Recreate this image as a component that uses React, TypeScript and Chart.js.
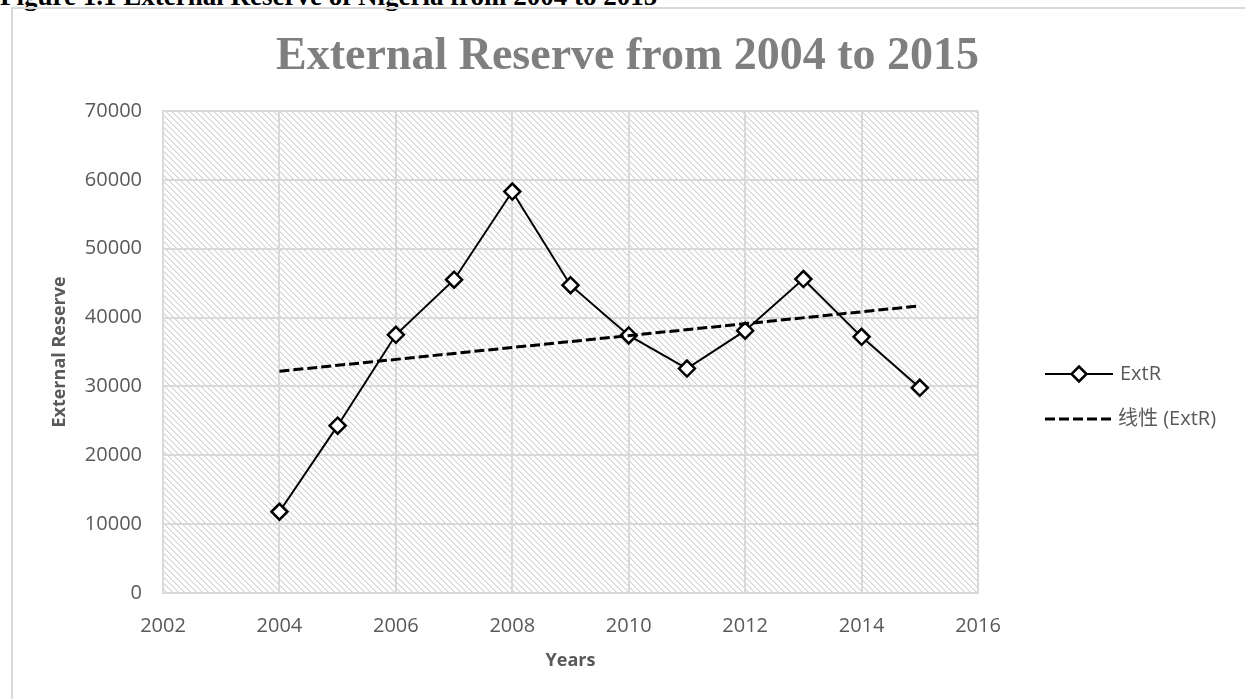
import React, { useEffect, useRef } from "react";
import { Chart, registerables } from "chart.js";

Chart.register(...registerables);

// ---- data ----
const years = [2004, 2005, 2006, 2007, 2008, 2009, 2010, 2011, 2012, 2013, 2014, 2015];
const extR = [11800, 24300, 37500, 45500, 58300, 44700, 37400, 32600, 38100, 45600, 37200, 29800];
const trendYears = [2004, 2015];
const trendValues = [32200, 41700];
const seriesLabel = "ExtR";
const trendLabel = "线性 (ExtR)";
const chartTitle = "External Reserve from 2004 to 2015";
const captionText = "Figure 1.1 External Reserve of Nigeria from 2004 to 2015";
const yAxisTitle = "External Reserve";
const xAxisTitle = "Years";
const xMin = 2002;
const xMax = 2016;
const xStep = 2;
const yMin = 0;
const yMax = 70000;
const yStep = 10000;

const TEXT = "#595959";
const GRID = "#d9d9d9";
const SANS = "'Open Sans', 'Noto Sans CJK SC', sans-serif";

const hatchPlugin = {
  id: "hatch",
  beforeDraw(chart: any) {
    const { ctx, chartArea: a } = chart;
    const n = 6;
    const pc = document.createElement("canvas");
    pc.width = n;
    pc.height = n;
    const p = pc.getContext("2d")!;
    const img = p.createImageData(n, n);
    for (let y = 0; y < n; y++) {
      for (let x = 0; x < n; x++) {
        const k = (((x - y) % n) + n) % n;
        const v = k === 0 ? 212 : k === 1 ? 232 : 255;
        const i = (y * n + x) * 4;
        img.data[i] = v;
        img.data[i + 1] = v;
        img.data[i + 2] = v;
        img.data[i + 3] = 255;
      }
    }
    p.putImageData(img, 0, 0);
    const pat = ctx.createPattern(pc, "repeat");
    ctx.save();
    ctx.fillStyle = pat;
    ctx.fillRect(a.left, a.top, a.right - a.left, a.bottom - a.top);
    ctx.restore();
  },
};

const legendPlugin = {
  id: "customLegend",
  afterDraw(chart: any) {
    const ctx = chart.ctx;
    const ds = chart.data.datasets;
    const x0 = 1045;
    const x1 = 1113;
    const tx = 1120;
    const rows = [374, 419];
    ctx.save();
    const main = ds[1];
    let y = rows[0];
    ctx.strokeStyle = "#000";
    ctx.lineWidth = 2;
    ctx.setLineDash([]);
    ctx.beginPath();
    ctx.moveTo(x0, y);
    ctx.lineTo(x1, y);
    ctx.stroke();
    const cx = (x0 + x1) / 2;
    const r = 7.5;
    ctx.beginPath();
    ctx.moveTo(cx, y - r);
    ctx.lineTo(cx + r, y);
    ctx.lineTo(cx, y + r);
    ctx.lineTo(cx - r, y);
    ctx.closePath();
    ctx.fillStyle = "#fff";
    ctx.fill();
    ctx.lineWidth = 2.5;
    ctx.stroke();
    ctx.fillStyle = TEXT;
    ctx.font = `20px ${SANS}`;
    ctx.textBaseline = "middle";
    ctx.textAlign = "left";
    ctx.fillText(main.label, tx, y);
    const tr = ds[0];
    y = rows[1];
    ctx.lineWidth = 3;
    ctx.setLineDash([10, 4]);
    ctx.beginPath();
    ctx.moveTo(x0, y);
    ctx.lineTo(x1, y);
    ctx.stroke();
    ctx.setLineDash([]);
    ctx.fillText(tr.label, tx - 2, y);
    ctx.restore();
  },
};

export default function App() {
  const ref = useRef<HTMLCanvasElement>(null);

  useEffect(() => {
    if (!ref.current) return;
    const chart = new Chart(ref.current, {
      type: "line",
      data: {
        datasets: [
          {
            label: trendLabel,
            data: trendYears.map((x, i) => ({ x, y: trendValues[i] })),
            borderColor: "#000",
            borderWidth: 3,
            borderDash: [10, 4],
            pointRadius: 0,
            fill: false,
          },
          {
            label: seriesLabel,
            data: years.map((x, i) => ({ x, y: extR[i] })),
            borderColor: "#000",
            borderWidth: 2,
            pointStyle: "rectRot",
            pointRadius: 8,
            pointBorderWidth: 2.5,
            pointBackgroundColor: "#fff",
            pointBorderColor: "#000",
            fill: false,
            tension: 0,
          },
        ],
      },
      options: {
        responsive: false,
        animation: false,
        layout: { padding: { left: 10, right: 0, top: 0, bottom: 0 } },
        plugins: {
          legend: { display: false },
          tooltip: { enabled: false },
          title: {
            display: true,
            text: chartTitle,
            color: "#7f7f7f",
            font: { family: "'Liberation Serif', serif", size: 46, weight: "bold", lineHeight: 1.2 },
            padding: { top: 30, bottom: 25.8 },
          },
        },
        scales: {
          x: {
            type: "linear",
            min: xMin,
            max: xMax,
            ticks: {
              stepSize: xStep,
              color: TEXT,
              font: { family: SANS, size: 20 },
              padding: 21,
              maxRotation: 0,
              callback: (v: any) => String(v),
            },
            grid: { color: GRID, lineWidth: 2, drawTicks: false },
            border: { color: GRID, width: 2 },
            title: {
              display: true,
              text: xAxisTitle,
              color: TEXT,
              font: { family: SANS, size: 18, weight: "bold", lineHeight: 1.2 },
              padding: { top: 0, bottom: 27 },
            },
            afterFit: (s: any) => {
              s.height = 106;
            },
          },
          y: {
            min: yMin,
            max: yMax,
            ticks: {
              stepSize: yStep,
              color: TEXT,
              font: { family: SANS, size: 20 },
              padding: 21,
              callback: (v: any) => String(v),
            },
            grid: { color: GRID, lineWidth: 2, drawTicks: false },
            border: { color: GRID, width: 2 },
            title: {
              display: true,
              text: yAxisTitle,
              color: TEXT,
              font: { family: SANS, size: 18, weight: "bold", lineHeight: 1.2 },
              padding: { top: 39, bottom: 0 },
            },
            afterFit: (s: any) => {
              s.width = 153;
            },
          },
          legendSpace: {
            type: "linear",
            position: "right",
            display: true,
            grid: { display: false, drawTicks: false },
            border: { display: false },
            ticks: { display: false },
            afterFit: (s: any) => {
              s.width = 267;
            },
          },
        },
      },
      plugins: [hatchPlugin, legendPlugin],
    });
    return () => chart.destroy();
  }, []);

  return (
    <div
      style={{
        position: "fixed",
        left: 0,
        top: 0,
        width: 1245,
        height: 699,
        overflow: "hidden",
        background: "#fff",
      }}
    >
      <div
        style={{
          position: "absolute",
          left: 0,
          top: -17,
          font: "bold 27px 'Liberation Serif', serif",
          lineHeight: "27px",
          whiteSpace: "nowrap",
          color: "#000",
        }}
      >
        {captionText}
      </div>
      <div
        style={{
          position: "absolute",
          left: 11,
          top: 7,
          width: 1300,
          height: 800,
          border: `2px solid ${GRID}`,
        }}
      />
      <canvas
        ref={ref}
        width={1245}
        height={699}
        style={{ position: "absolute", left: 0, top: 0, width: 1245, height: 699 }}
      />
    </div>
  );
}
